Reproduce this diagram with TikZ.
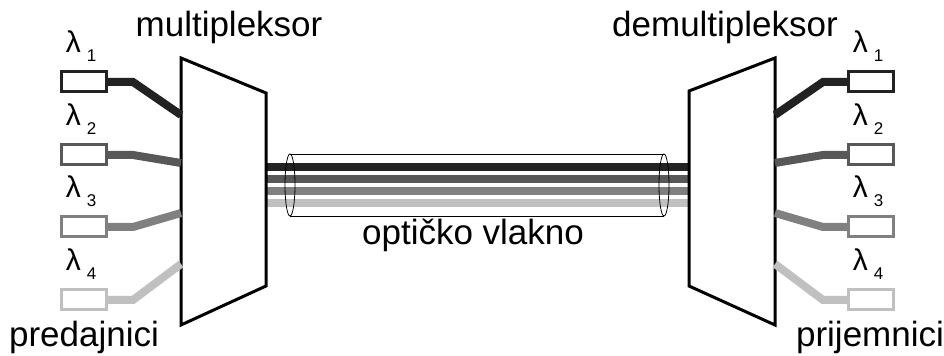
\documentclass[tikz,border=0pt]{standalone}
\usepackage{fontspec}
\setmainfont{Liberation Sans}
\definecolor{lamA}{RGB}{34,34,34}
\definecolor{lamB}{RGB}{88,88,88}
\definecolor{lamC}{RGB}{128,128,128}
\definecolor{lamD}{RGB}{192,192,192}

\begin{document}
\begin{tikzpicture}
[x=0.5pt,y=-0.5pt,
  boxDecorate/.style={draw,line width=1.5pt,fill=white,minimum width=22.5pt,minimum height=10pt,inner sep=0pt},%
  wireDecorate/.style={line width=4pt},%
  lamDecorate/.style={anchor=base,font=\fontsize{15}{16}\selectfont},%
  titleDecorate/.style={anchor=base,font=\fontsize{17.5}{20}\selectfont}]
\useasboundingbox (0,0) rectangle (944,356);
%% fibre channels between the two boxes
\foreach \i/\y/\col in {1/167/lamA, 2/179/lamB, 3/191/lamC, 4/203/lamD}
{
  \coordinate (mf\i) at (266,\y);
  \coordinate (df\i) at (689,\y);
  \draw[wireDecorate,\col] (mf\i) -- (df\i);
}
%% transparent tube around the fibre
\draw[line width=0.4pt] (290,154) -- (664,154) (290,216) -- (664,216);
\draw[line width=0.4pt] (290,185) ellipse [x radius=5,y radius=31];
\draw[line width=0.4pt] (664,185) ellipse [x radius=5,y radius=31];
%% multiplexer and demultiplexer
\draw[line width=1.5pt,fill=white] (181,58) -- (266,93) -- (266,286) -- (181,325) -- cycle;
\draw[line width=1.5pt,fill=white] (775,58) -- (689,91) -- (689,286) -- (775,325) -- cycle;
%% sources, receivers and their wires
\foreach \i/\y/\ym/\col in {1/82/115/lamA, 2/155/163/lamB, 3/227/213/lamC, 4/300/264/lamD}
{
  \node (tx\i) at (84,\y) [boxDecorate,draw=\col] {};
  \node (rx\i) at (871,\y) [boxDecorate,draw=\col] {};
  \coordinate (min\i) at (181,\ym);
  \coordinate (mout\i) at (775,\ym);
  \draw[wireDecorate,\col] (tx\i.east) -- (133,\y) -- (min\i);
  \draw[wireDecorate,\col] (rx\i.west) -- (823,\y) -- (mout\i);
  \node (ltx\i) at (81,{\y-29}) [lamDecorate] {λ\hspace{3pt}\raisebox{-4.5pt}{\fontsize{8.5}{9}\selectfont\i}};
  \node (lrx\i) at (868,{\y-29}) [lamDecorate] {λ\hspace{3pt}\raisebox{-4.5pt}{\fontsize{8.5}{9}\selectfont\i}};
}
%% labels
\node (mux) at (229,37) [titleDecorate] {multipleksor};
\node (demux) at (725,37) [titleDecorate] {demultipleksor};
\node (tx) at (84,347) [titleDecorate] {predajnici};
\node (rx) at (870,347) [titleDecorate] {prijemnici};
\node (fibre) at (473,245) [titleDecorate] {optičko vlakno};
\end{tikzpicture}
\end{document}
